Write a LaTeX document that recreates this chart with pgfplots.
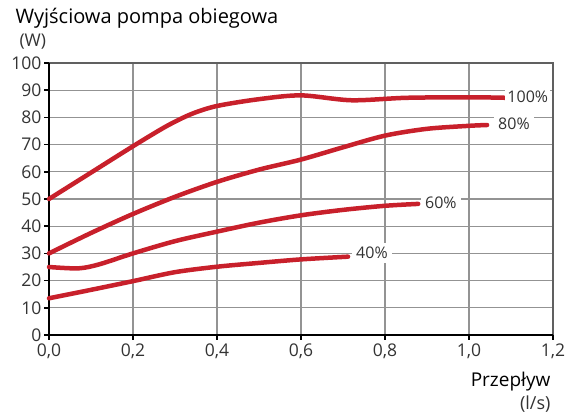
\documentclass[border=0pt]{standalone}
\usepackage{pgfplots}
\pgfplotsset{compat=1.18}
\usepackage{fontspec}
\setmainfont{Open Sans}
\definecolor{curve}{HTML}{C8202B}
\definecolor{tick}{HTML}{333333}
\begin{document}
\begin{tikzpicture}[x=1pt,y=1pt]
\begin{axis}[
  scale only axis, width=504pt, height=272pt,
  xmin=0, xmax=1.2, ymin=0, ymax=100,
  xtick={0,0.2,...,1.2}, ytick={0,10,...,100},
  /pgf/number format/assume math mode=true,
  xticklabel style={/pgf/number format/.cd, fixed, fixed zerofill, precision=1, use comma},
  ticklabel style={font=\fontsize{17.5}{17.5}\selectfont, text=tick},
  yticklabel style={xshift=1pt},
  grid=major, grid style={draw=gray!85, line width=1.1pt},
  axis line style={draw=none},
  tick style={draw=black, line width=1.5pt},
  tick align=outside, major tick length=5pt,
  xtick pos=bottom, ytick pos=left,
  clip=false,
  curv/.style={line width=4.5pt, draw=curve, line cap=round, smooth, no markers, tension=0.5},
]
% frame
\draw[gray!75!black, line width=1.6pt] (rel axis cs:0,1) -- (rel axis cs:1,1) -- (rel axis cs:1,0);
\draw[black, line width=2.4pt] (rel axis cs:0,1) -- (rel axis cs:0,0) -- (rel axis cs:1,0);
\addplot[curv] coordinates {(0,50) (0.1,59.7) (0.2,69.4) (0.28,76.8) (0.34,81.3) (0.4,84.2) (0.5,86.7) (0.6,88.1) (0.72,86.3) (0.85,87.2) (1.0,87.4) (1.09,87.2)};
\addplot[curv] coordinates {(0,30) (0.1,37.5) (0.2,44.5) (0.3,50.8) (0.4,56.3) (0.5,60.8) (0.6,64.5) (0.7,69) (0.8,73.3) (0.9,75.8) (1.0,76.9) (1.043,77.2)};
\addplot[curv] coordinates {(0,25) (0.07,24.5) (0.12,26) (0.2,30) (0.3,34.5) (0.4,38) (0.5,41.3) (0.6,44) (0.7,46) (0.8,47.5) (0.879,48.2)};
\addplot[curv] coordinates {(0,13.5) (0.1,16.6) (0.2,19.8) (0.3,23.1) (0.4,25.1) (0.5,26.5) (0.6,27.8) (0.712,28.8)};
\node[fill=white, text=tick, inner sep=2pt, font=\fontsize{16}{16}\selectfont] at (axis cs:1.14,87.5) {100\%};
\node[fill=white, text=tick, inner sep=4pt, font=\fontsize{16}{16}\selectfont] at (axis cs:1.107,77.6) {80\%};
\node[fill=white, text=tick, inner sep=4pt, font=\fontsize{16}{16}\selectfont] at (axis cs:0.933,48.5) {60\%};
\node[fill=white, text=tick, inner sep=4pt, font=\fontsize{16}{16}\selectfont] at (axis cs:0.769,30.1) {40\%};
\end{axis}
\pgfresetboundingbox
\path (0,0) ++(-49,-77) rectangle ++(571,412);
\node[anchor=west, font=\fontsize{20}{20}\selectfont] at (-37,317) {Wyjściowa pompa obiegowa};
\node[anchor=west, text=tick, font=\fontsize{17.5}{17.5}\selectfont] at (-33,293) {(W)};
\node[anchor=east, font=\fontsize{19}{19}\selectfont] at (505,-47) {Przepływ};
\node[anchor=east, text=tick, font=\fontsize{18}{18}\selectfont] at (505,-69) {(l/s)};
\end{tikzpicture}
\end{document}
